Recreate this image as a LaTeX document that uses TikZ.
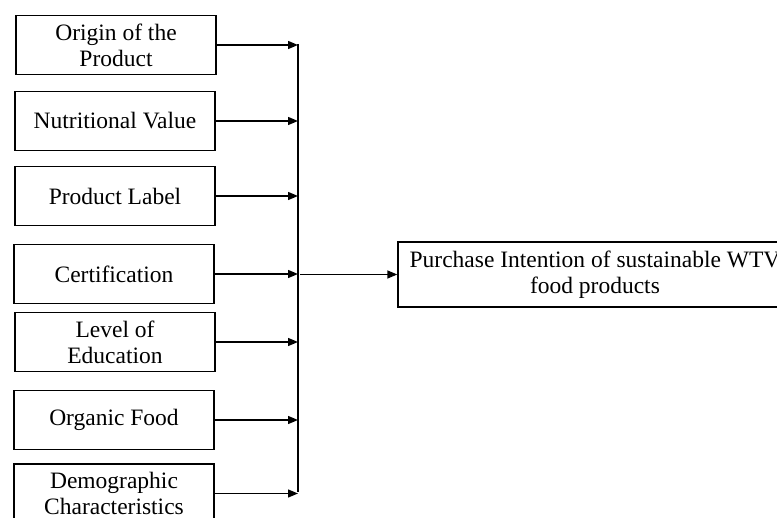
\documentclass[tikz,border=0pt]{standalone}
\usepackage{fontspec}
\setmainfont{Liberation Serif}
\usetikzlibrary{arrows.meta}
\begin{document}
\begin{tikzpicture}[x=1pt,y=-1pt,
  box/.style={draw, line width=1.4pt, inner sep=0pt, minimum width=200pt, minimum height=59pt, align=center, font=\fontsize{23.5}{26}\selectfont},
  arr/.style={line width=1.4pt, -{Triangle[length=10pt,width=8pt]}},
  ln/.style={line width=1.4pt}]
\useasboundingbox (0,0) rectangle (777,518);
\node[box] (b1) at (116,45) {Origin of the\\Product};
\node[box] (b2) at (115,121) {Nutritional Value};
\node[box] (b3) at (115,196) {Product Label};
\node[box] (b4) at (114,274) {Certification};
\node[box] (b5) at (115,342) {Level of\\Education};
\node[box] (b6) at (114,420) {Organic Food};
\node[box] (b7) at (114,493.5) {Demographic\\Characteristics};
\node[box, minimum width=394pt, minimum height=65pt] (out) at (595,274.5) {Purchase Intention of sustainable WTV\\food products};
\coordinate (top) at (298,44);
\coordinate (bot) at (298,492);
\draw[ln] (top) -- (bot);
\foreach \b in {b1,b2,b3,b4,b5,b6,b7}{
  \draw[arr] (\b.east) -- (\b.east -| top);
}
\draw[arr] (out.west -| top) ++(2,0) -- (out.west);
\end{tikzpicture}
\end{document}
